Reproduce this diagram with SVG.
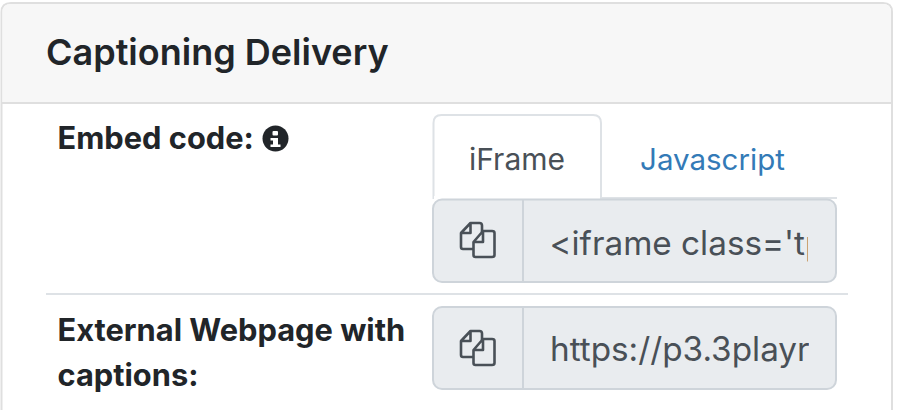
<svg xmlns="http://www.w3.org/2000/svg" width="917" height="410" viewBox="0 0 917 410">
<style>
text{font-family:"Inter","Liberation Sans",sans-serif}
.b{font-weight:700;font-size:30.800px;fill:#212529}
.g{fill:#e9ecef;stroke:#ced4da;stroke-width:2}
.d{stroke:#ced4da;stroke-width:2}
.r{stroke:#dee2e6;stroke-width:2}
.t{font-size:33.300px;fill:#495057}
.i{fill:none;stroke:#495057;stroke-width:2.600;stroke-linejoin:round}
</style>
<defs>
<g id="copy">
<path class="i" d="M0 13L9.500 3H18.500Q21 3 21 5.500V12M9.500 3V13H0V27Q0 29 2 29H12.500"/>
<path class="i" d="M12.500 22L22 11H31Q33.500 11 33.500 13V35Q33.500 37 31 37H14.500Q12.500 37 12.500 35ZM22 11V22H12.500"/>
</g>
<clipPath id="c1"><rect x="524" y="200" width="284" height="82"/></clipPath>
<clipPath id="c2"><rect x="524" y="307" width="285" height="82"/></clipPath>
</defs>
<rect width="917" height="410" fill="#fff"/>
<g id="card">
<path d="M1.500 410V12Q1.500 3 11 3H883Q892 3 892 12V410" fill="#fff" stroke="#dfdfdf" stroke-width="2"/>
<path d="M2.500 103V12Q2.500 4 11 4H883Q891 4 891 12V103Z" fill="#f7f7f7"/>
<line x1="2" y1="103" x2="892" y2="103" stroke="#dfdfdf" stroke-width="2"/>
<text x="46" y="65" font-size="36" font-weight="600" fill="#212529">Captioning Delivery</text>
</g>
<g id="embed-label">
<text class="b" x="57.500" y="149">Embed code:</text>
<circle cx="275.500" cy="138.500" r="13" fill="#212529"/>
<rect x="272.500" y="131" width="5.500" height="4.500" rx="1" fill="#fff"/>
<path d="M270.500 138H278V144.500H280.500V147H270.500V144.500H273V140.500H270.500Z" fill="#fff"/>
</g>
<g id="tabs">
<line x1="433" y1="198" x2="837" y2="198" class="r"/>
<path d="M433.500 198V123Q433.500 115 441.500 115H593Q601 115 601 123V198Z" fill="#fff" stroke="#dee2e6" stroke-width="2"/>
<rect x="434" y="196" width="166" height="4" fill="#fff"/>
<text x="517" y="170" text-anchor="middle" font-size="30" fill="#495057">iFrame</text>
<text x="712.500" y="170" text-anchor="middle" font-size="29.500" fill="#337ab7">Javascript</text>
</g>
<g id="embed-input">
<rect class="g" x="433" y="199.500" width="403" height="82.500" rx="9"/>
<line class="d" x1="523" y1="200" x2="523" y2="282"/>
<use href="#copy" x="461" y="220"/>
<text class="t" x="549.500" y="255" clip-path="url(#c1)">&lt;iframe class='tp</text>
</g>
<line id="row-divider" x1="46" y1="294" x2="848" y2="294" class="r"/>
<g id="external-label">
<text class="b" x="57.500" y="341">External Webpage with</text>
<text class="b" x="57.500" y="386">captions:</text>
</g>
<g id="external-input">
<rect class="g" x="433" y="307" width="403" height="82" rx="9"/>
<line class="d" x1="523" y1="307" x2="523" y2="389"/>
<use href="#copy" x="461" y="328"/>
<text class="t" x="550" y="361" clip-path="url(#c2)">https://p3.3playr</text>
</g>
<g id="connectors"/>
</svg>
